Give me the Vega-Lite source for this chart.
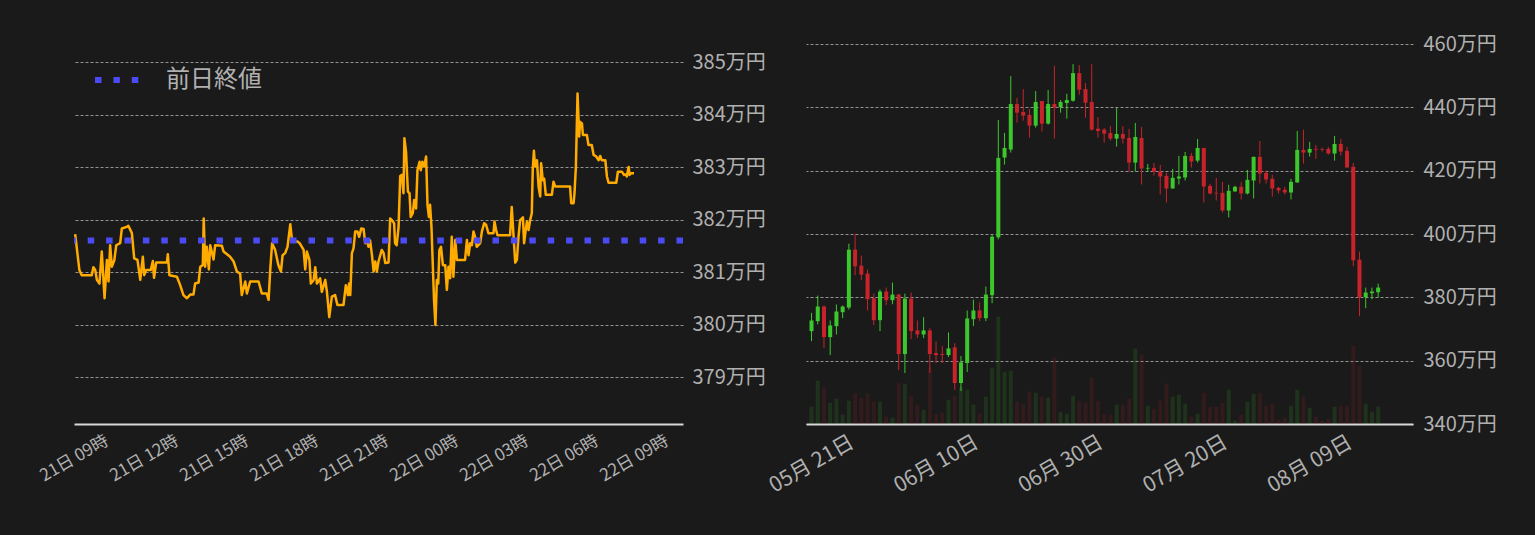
{
  "$schema": "https://vega.github.io/schema/vega-lite/v6.json",
  "description": "Intraday price with previous close, and daily candlesticks with volume",
  "background": "#1a1a1a",
  "padding": {"left": 36, "top": 25, "right": 50, "bottom": 45},
  "bounds": "flush",
  "spacing": 123,
  "config": {
    "view": {"stroke": null},
    "font": "Noto Sans CJK JP",
    "axis": {
      "title": null,
      "ticks": false,
      "tickSize": 0,
      "labelOverlap": false,
      "labelFont": "Noto Sans CJK JP",
      "labelColor": "#b0b0b0",
      "domainColor": "#d8d8d8",
      "domainWidth": 2,
      "gridColor": "#c8c8c8",
      "gridWidth": 0.7,
      "gridDash": [3, 2]
    }
  },
  "hconcat": [
    {
      "width": 609,
      "height": 399,
      "layer": [
        {
          "data": {
            "values": [
              {"hour": 9.05, "price": 381.72}, {"hour": 9.23, "price": 381.04}, {"hour": 9.33, "price": 380.94},
              {"hour": 9.76, "price": 380.94}, {"hour": 9.83, "price": 381.09}, {"hour": 9.91, "price": 381.04},
              {"hour": 9.98, "price": 380.85}, {"hour": 10.09, "price": 380.78}, {"hour": 10.19, "price": 381.39},
              {"hour": 10.31, "price": 380.5}, {"hour": 10.41, "price": 381.23}, {"hour": 10.48, "price": 380.82},
              {"hour": 10.55, "price": 381.51}, {"hour": 10.62, "price": 381.1}, {"hour": 10.73, "price": 381.23},
              {"hour": 10.81, "price": 381.51}, {"hour": 10.98, "price": 381.55}, {"hour": 11.05, "price": 381.83},
              {"hour": 11.26, "price": 381.86}, {"hour": 11.33, "price": 381.88}, {"hour": 11.48, "price": 381.74},
              {"hour": 11.58, "price": 381.26}, {"hour": 11.72, "price": 381.23}, {"hour": 11.84, "price": 380.85},
              {"hour": 11.95, "price": 381.29}, {"hour": 12.01, "price": 380.94}, {"hour": 12.09, "price": 381.04},
              {"hour": 12.29, "price": 381.04}, {"hour": 12.38, "price": 381.21}, {"hour": 12.43, "price": 380.89},
              {"hour": 12.52, "price": 381.18}, {"hour": 12.98, "price": 381.18}, {"hour": 13.02, "price": 381.34},
              {"hour": 13.09, "price": 380.94}, {"hour": 13.41, "price": 380.91}, {"hour": 13.55, "price": 380.75},
              {"hour": 13.69, "price": 380.56}, {"hour": 13.84, "price": 380.5}, {"hour": 13.98, "price": 380.57},
              {"hour": 14.12, "price": 380.57}, {"hour": 14.19, "price": 380.78}, {"hour": 14.34, "price": 380.8},
              {"hour": 14.41, "price": 381.1}, {"hour": 14.52, "price": 381.13}, {"hour": 14.56, "price": 382.02},
              {"hour": 14.62, "price": 381.1}, {"hour": 14.69, "price": 381.48}, {"hour": 14.78, "price": 381.05},
              {"hour": 14.84, "price": 381.51}, {"hour": 14.98, "price": 381.24}, {"hour": 15.05, "price": 381.51},
              {"hour": 15.34, "price": 381.5}, {"hour": 15.41, "price": 381.39}, {"hour": 15.69, "price": 381.29},
              {"hour": 15.84, "price": 381.2}, {"hour": 15.98, "price": 381.01}, {"hour": 16.12, "price": 380.97},
              {"hour": 16.19, "price": 380.56}, {"hour": 16.34, "price": 380.82}, {"hour": 16.41, "price": 380.59},
              {"hour": 16.55, "price": 380.82}, {"hour": 16.91, "price": 380.82}, {"hour": 17.05, "price": 380.59},
              {"hour": 17.26, "price": 380.59}, {"hour": 17.34, "price": 380.47}, {"hour": 17.41, "price": 381.04},
              {"hour": 17.49, "price": 381.55}, {"hour": 17.62, "price": 381.42}, {"hour": 17.76, "price": 381.13},
              {"hour": 17.87, "price": 381.01}, {"hour": 17.94, "price": 381.32}, {"hour": 18.05, "price": 381.36},
              {"hour": 18.15, "price": 381.48}, {"hour": 18.27, "price": 381.91}, {"hour": 18.34, "price": 381.61},
              {"hour": 18.41, "price": 381.58}, {"hour": 18.58, "price": 381.58}, {"hour": 18.67, "price": 381.55},
              {"hour": 18.84, "price": 381.42}, {"hour": 18.91, "price": 381.05}, {"hour": 18.98, "price": 381.39},
              {"hour": 19.09, "price": 381.23}, {"hour": 19.15, "price": 380.78}, {"hour": 19.27, "price": 380.85},
              {"hour": 19.34, "price": 381.09}, {"hour": 19.41, "price": 380.78}, {"hour": 19.55, "price": 380.88},
              {"hour": 19.62, "price": 380.62}, {"hour": 19.77, "price": 380.85}, {"hour": 19.84, "price": 380.62},
              {"hour": 19.94, "price": 380.14}, {"hour": 20.05, "price": 380.53}, {"hour": 20.19, "price": 380.56},
              {"hour": 20.29, "price": 380.37}, {"hour": 20.55, "price": 380.37}, {"hour": 20.65, "price": 380.75},
              {"hour": 20.74, "price": 380.56}, {"hour": 20.79, "price": 380.78}, {"hour": 20.84, "price": 380.56},
              {"hour": 20.91, "price": 381.36}, {"hour": 20.98, "price": 381.45}, {"hour": 21.05, "price": 381.77},
              {"hour": 21.15, "price": 381.77}, {"hour": 21.22, "price": 381.67}, {"hour": 21.31, "price": 381.83},
              {"hour": 21.41, "price": 381.82}, {"hour": 21.48, "price": 381.55}, {"hour": 21.55, "price": 381.62},
              {"hour": 21.62, "price": 381.48}, {"hour": 21.69, "price": 381.6}, {"hour": 21.77, "price": 381.32},
              {"hour": 21.84, "price": 381.01}, {"hour": 21.91, "price": 381.2}, {"hour": 21.98, "price": 381.01},
              {"hour": 22.05, "price": 381.2}, {"hour": 22.19, "price": 381.42}, {"hour": 22.27, "price": 381.36},
              {"hour": 22.34, "price": 381.17}, {"hour": 22.48, "price": 381.18}, {"hour": 22.55, "price": 382.02},
              {"hour": 22.62, "price": 381.99}, {"hour": 22.72, "price": 381.93}, {"hour": 22.76, "price": 381.55},
              {"hour": 22.83, "price": 381.51}, {"hour": 22.91, "price": 381.86}, {"hour": 22.98, "price": 382.83},
              {"hour": 23.05, "price": 382.85}, {"hour": 23.12, "price": 382.5}, {"hour": 23.16, "price": 383.55},
              {"hour": 23.23, "price": 383.29}, {"hour": 23.31, "price": 382.53}, {"hour": 23.38, "price": 382.5},
              {"hour": 23.43, "price": 382.05}, {"hour": 23.52, "price": 382.12}, {"hour": 23.58, "price": 382.37},
              {"hour": 23.66, "price": 382.21}, {"hour": 23.72, "price": 382.94}, {"hour": 23.81, "price": 383.1},
              {"hour": 23.86, "price": 382.94}, {"hour": 23.93, "price": 383.1}, {"hour": 24.01, "price": 383.01},
              {"hour": 24.09, "price": 383.2}, {"hour": 24.15, "price": 382.28}, {"hour": 24.21, "price": 382.05},
              {"hour": 24.26, "price": 382.28}, {"hour": 24.32, "price": 381.86}, {"hour": 24.38, "price": 381.1},
              {"hour": 24.43, "price": 380.47}, {"hour": 24.49, "price": 379.99}, {"hour": 24.55, "price": 380.85},
              {"hour": 24.61, "price": 380.78}, {"hour": 24.66, "price": 381.42}, {"hour": 24.73, "price": 381.48},
              {"hour": 24.81, "price": 381.13}, {"hour": 24.91, "price": 381.13}, {"hour": 24.98, "price": 380.66},
              {"hour": 25.05, "price": 381.1}, {"hour": 25.12, "price": 380.88}, {"hour": 25.19, "price": 381.67},
              {"hour": 25.26, "price": 380.91}, {"hour": 25.34, "price": 381.61}, {"hour": 25.41, "price": 381.23},
              {"hour": 25.76, "price": 381.23}, {"hour": 25.84, "price": 381.61}, {"hour": 25.91, "price": 381.32},
              {"hour": 25.98, "price": 381.55}, {"hour": 26.05, "price": 381.51}, {"hour": 26.12, "price": 381.77},
              {"hour": 26.19, "price": 381.67}, {"hour": 26.26, "price": 381.48}, {"hour": 26.41, "price": 381.55},
              {"hour": 26.48, "price": 381.77}, {"hour": 26.58, "price": 381.93}, {"hour": 26.66, "price": 381.9},
              {"hour": 26.76, "price": 381.74}, {"hour": 26.98, "price": 381.74}, {"hour": 27.02, "price": 381.96},
              {"hour": 27.09, "price": 381.8}, {"hour": 27.15, "price": 381.7}, {"hour": 27.69, "price": 381.7},
              {"hour": 27.76, "price": 382.24}, {"hour": 27.84, "price": 381.67}, {"hour": 27.91, "price": 381.18},
              {"hour": 27.98, "price": 381.23}, {"hour": 28.05, "price": 381.67}, {"hour": 28.12, "price": 381.99},
              {"hour": 28.24, "price": 382.04}, {"hour": 28.29, "price": 381.55}, {"hour": 28.35, "price": 381.77},
              {"hour": 28.41, "price": 381.96}, {"hour": 28.48, "price": 381.8}, {"hour": 28.55, "price": 381.99},
              {"hour": 28.62, "price": 382.12}, {"hour": 28.66, "price": 382.94}, {"hour": 28.71, "price": 383.31},
              {"hour": 28.76, "price": 383.01}, {"hour": 28.84, "price": 383.13}, {"hour": 28.91, "price": 382.63},
              {"hour": 28.98, "price": 382.44}, {"hour": 29.02, "price": 383.07}, {"hour": 29.09, "price": 382.75},
              {"hour": 29.15, "price": 382.78}, {"hour": 29.22, "price": 382.47}, {"hour": 29.48, "price": 382.47},
              {"hour": 29.55, "price": 382.72}, {"hour": 29.62, "price": 382.63}, {"hour": 30.26, "price": 382.63},
              {"hour": 30.31, "price": 382.31}, {"hour": 30.41, "price": 382.31}, {"hour": 30.45, "price": 382.5},
              {"hour": 30.51, "price": 383.01}, {"hour": 30.58, "price": 384.4}, {"hour": 30.65, "price": 383.58},
              {"hour": 30.69, "price": 383.86}, {"hour": 30.77, "price": 383.83}, {"hour": 30.81, "price": 383.61},
              {"hour": 30.98, "price": 383.61}, {"hour": 31.05, "price": 383.42}, {"hour": 31.19, "price": 383.42},
              {"hour": 31.27, "price": 383.23}, {"hour": 31.38, "price": 383.2}, {"hour": 31.48, "price": 383.13},
              {"hour": 31.55, "price": 383.21}, {"hour": 31.62, "price": 383.13}, {"hour": 31.77, "price": 383.13},
              {"hour": 31.84, "price": 382.82}, {"hour": 31.91, "price": 382.7}, {"hour": 32.24, "price": 382.7},
              {"hour": 32.31, "price": 382.91}, {"hour": 32.48, "price": 382.91}, {"hour": 32.58, "price": 382.85},
              {"hour": 32.67, "price": 382.86}, {"hour": 32.69, "price": 382.82}, {"hour": 32.77, "price": 383.0},
              {"hour": 32.81, "price": 382.85}, {"hour": 32.87, "price": 382.88}, {"hour": 33.0, "price": 382.88}
            ]
          },
          "mark": {"type": "line", "color": "#ffab00", "strokeWidth": 2.5, "strokeJoin": "round", "clip": true},
          "encoding": {
            "x": {
              "field": "hour",
              "type": "quantitative",
              "scale": {"domain": [9, 35.1], "nice": false, "zero": false},
              "axis": {
                "values": [9, 12, 15, 18, 21, 24, 27, 30, 33],
                "labelExpr": "(datum.value < 24 ? '21日 ' : '22日 ') + (datum.value % 24 < 10 ? '0' : '') + (datum.value % 24) + '時'",
                "labelAngle": -30,
                "labelAlign": "center",
                "labelBaseline": "middle",
                "labelPadding": 34,
                "labelFontSize": 17,
                "grid": false
              }
            },
            "y": {
              "field": "price",
              "type": "quantitative",
              "scale": {"domain": [378.105, 385.705], "nice": false, "zero": false},
              "axis": {
                "orient": "right",
                "values": [379, 380, 381, 382, 383, 384, 385],
                "labelExpr": "datum.value + '万円'",
                "labelFontSize": 20,
                "labelPadding": 9,
                "domain": false,
                "grid": true
              }
            }
          }
        },
        {
          "data": {"values": [{"series": "前日終値", "price": 381.6}]},
          "mark": {"type": "rule", "strokeWidth": 6, "strokeDash": [6.5, 11.9], "strokeCap": "butt"},
          "encoding": {
            "y": {"field": "price", "type": "quantitative"},
            "color": {
              "field": "series",
              "type": "nominal",
              "scale": {"range": ["#4b4bf5"]},
              "legend": {
                "title": null,
                "orient": "none",
                "legendX": 18,
                "legendY": 30,
                "padding": 0,
                "symbolType": "stroke",
                "symbolStrokeWidth": 6,
                "symbolDash": [6.5, 11.9],
                "symbolSize": 1936,
                "labelOffset": 24,
                "labelFont": "Noto Sans CJK JP",
                "labelFontSize": 24,
                "labelColor": "#b0b0b0"
              }
            }
          }
        }
      ]
    },
    {
      "width": 607,
      "height": 399,
      "data": {
        "values": [
          {"date": "2024-05-21", "open": 369.33, "high": 375.1, "low": 366.18, "close": 372.69, "volume": 52},
          {"date": "2024-05-22", "open": 372.48, "high": 380.56, "low": 371.43, "close": 377.1, "volume": 130},
          {"date": "2024-05-23", "open": 377.1, "high": 377.41, "low": 363.97, "close": 367.44, "volume": 109},
          {"date": "2024-05-24", "open": 367.44, "high": 372.69, "low": 361.77, "close": 371.11, "volume": 64},
          {"date": "2024-05-25", "open": 370.9, "high": 377.73, "low": 368.28, "close": 375.52, "volume": 76},
          {"date": "2024-05-26", "open": 375.31, "high": 377.41, "low": 373.42, "close": 377.1, "volume": 28},
          {"date": "2024-05-27", "open": 376.78, "high": 396.94, "low": 376.15, "close": 395.05, "volume": 70},
          {"date": "2024-05-28", "open": 395.05, "high": 400.09, "low": 386.97, "close": 389.8, "volume": 92},
          {"date": "2024-05-29", "open": 390.01, "high": 393.16, "low": 385.39, "close": 387.18, "volume": 79},
          {"date": "2024-05-30", "open": 387.49, "high": 388.75, "low": 375.84, "close": 379.4, "volume": 92},
          {"date": "2024-05-31", "open": 379.72, "high": 381.19, "low": 371.22, "close": 372.79, "volume": 67},
          {"date": "2024-06-01", "open": 372.79, "high": 382.45, "low": 369.33, "close": 381.82, "volume": 67},
          {"date": "2024-06-02", "open": 381.82, "high": 383.08, "low": 377.52, "close": 379.09, "volume": 22},
          {"date": "2024-06-03", "open": 379.09, "high": 384.66, "low": 377.83, "close": 380.88, "volume": 19},
          {"date": "2024-06-04", "open": 380.88, "high": 381.1, "low": 357.04, "close": 362.08, "volume": 124},
          {"date": "2024-06-05", "open": 362.08, "high": 381.19, "low": 356.1, "close": 379.62, "volume": 121},
          {"date": "2024-06-06", "open": 379.62, "high": 381.51, "low": 366.81, "close": 369.33, "volume": 85},
          {"date": "2024-06-07", "open": 369.54, "high": 372.69, "low": 367.12, "close": 368.28, "volume": 58},
          {"date": "2024-06-08", "open": 368.28, "high": 373.74, "low": 367.12, "close": 369.54, "volume": 43},
          {"date": "2024-06-09", "open": 369.54, "high": 370.27, "low": 356.1, "close": 362.08, "volume": 170},
          {"date": "2024-06-10", "open": 362.4, "high": 366.07, "low": 359.25, "close": 361.77, "volume": 31},
          {"date": "2024-06-11", "open": 362.08, "high": 364.6, "low": 359.25, "close": 361.77, "volume": 34},
          {"date": "2024-06-12", "open": 361.77, "high": 368.91, "low": 361.14, "close": 363.87, "volume": 73},
          {"date": "2024-06-13", "open": 364.18, "high": 365.55, "low": 350.74, "close": 352.95, "volume": 85},
          {"date": "2024-06-14", "open": 352.95, "high": 361.45, "low": 350.43, "close": 359.46, "volume": 110},
          {"date": "2024-06-15", "open": 359.25, "high": 375.84, "low": 356.41, "close": 373.32, "volume": 103},
          {"date": "2024-06-16", "open": 373.1, "high": 379.3, "low": 370.9, "close": 375.84, "volume": 58},
          {"date": "2024-06-17", "open": 375.84, "high": 378.36, "low": 372.48, "close": 373.42, "volume": 31},
          {"date": "2024-06-18", "open": 373.42, "high": 383.4, "low": 372.48, "close": 380.88, "volume": 82},
          {"date": "2024-06-19", "open": 380.67, "high": 399.88, "low": 378.15, "close": 399.15, "volume": 169},
          {"date": "2024-06-20", "open": 398.94, "high": 436.0, "low": 398.31, "close": 424.03, "volume": 322},
          {"date": "2024-06-21", "open": 424.14, "high": 431.91, "low": 421.93, "close": 427.18, "volume": 157},
          {"date": "2024-06-22", "open": 426.66, "high": 449.86, "low": 425.71, "close": 441.04, "volume": 160},
          {"date": "2024-06-23", "open": 441.04, "high": 443.03, "low": 435.16, "close": 438.31, "volume": 67},
          {"date": "2024-06-24", "open": 438.52, "high": 445.77, "low": 435.79, "close": 437.37, "volume": 61},
          {"date": "2024-06-25", "open": 437.58, "high": 439.47, "low": 430.43, "close": 434.22, "volume": 97},
          {"date": "2024-06-26", "open": 434.22, "high": 445.14, "low": 433.59, "close": 441.67, "volume": 94},
          {"date": "2024-06-27", "open": 441.99, "high": 441.99, "low": 432.33, "close": 434.85, "volume": 82},
          {"date": "2024-06-28", "open": 434.85, "high": 445.45, "low": 434.53, "close": 441.04, "volume": 79},
          {"date": "2024-06-29", "open": 441.04, "high": 453.12, "low": 430.12, "close": 439.99, "volume": 200},
          {"date": "2024-06-30", "open": 439.99, "high": 442.3, "low": 438.31, "close": 441.67, "volume": 37},
          {"date": "2024-07-01", "open": 441.36, "high": 444.3, "low": 436.42, "close": 442.3, "volume": 31},
          {"date": "2024-07-02", "open": 442.09, "high": 453.64, "low": 441.78, "close": 450.81, "volume": 85},
          {"date": "2024-07-03", "open": 450.81, "high": 453.33, "low": 443.98, "close": 445.56, "volume": 70},
          {"date": "2024-07-04", "open": 445.77, "high": 447.66, "low": 436.74, "close": 441.46, "volume": 64},
          {"date": "2024-07-05", "open": 441.67, "high": 453.64, "low": 432.64, "close": 432.96, "volume": 139},
          {"date": "2024-07-06", "open": 433.27, "high": 436.95, "low": 430.43, "close": 432.53, "volume": 70},
          {"date": "2024-07-07", "open": 432.96, "high": 433.48, "low": 428.86, "close": 431.7, "volume": 31},
          {"date": "2024-07-08", "open": 431.91, "high": 434.11, "low": 429.49, "close": 430.12, "volume": 28},
          {"date": "2024-07-09", "open": 430.12, "high": 439.89, "low": 427.6, "close": 431.59, "volume": 58},
          {"date": "2024-07-10", "open": 431.59, "high": 434.11, "low": 428.55, "close": 430.12, "volume": 58},
          {"date": "2024-07-11", "open": 430.33, "high": 433.17, "low": 419.73, "close": 422.56, "volume": 76},
          {"date": "2024-07-12", "open": 422.56, "high": 435.06, "low": 419.73, "close": 430.65, "volume": 226},
          {"date": "2024-07-13", "open": 430.33, "high": 433.8, "low": 415.63, "close": 420.67, "volume": 208},
          {"date": "2024-07-14", "open": 420.67, "high": 422.14, "low": 419.73, "close": 420.88, "volume": 55},
          {"date": "2024-07-15", "open": 420.88, "high": 422.46, "low": 418.47, "close": 419.73, "volume": 46},
          {"date": "2024-07-16", "open": 419.73, "high": 421.83, "low": 412.48, "close": 418.15, "volume": 70},
          {"date": "2024-07-17", "open": 418.36, "high": 419.41, "low": 409.96, "close": 414.37, "volume": 121},
          {"date": "2024-07-18", "open": 414.37, "high": 420.57, "low": 414.37, "close": 417.73, "volume": 82},
          {"date": "2024-07-19", "open": 417.52, "high": 424.66, "low": 415.63, "close": 418.15, "volume": 88},
          {"date": "2024-07-20", "open": 417.84, "high": 425.92, "low": 416.89, "close": 424.66, "volume": 61},
          {"date": "2024-07-21", "open": 424.66, "high": 425.61, "low": 420.99, "close": 422.88, "volume": 22},
          {"date": "2024-07-22", "open": 423.19, "high": 430.02, "low": 422.56, "close": 427.18, "volume": 31},
          {"date": "2024-07-23", "open": 427.18, "high": 427.18, "low": 409.96, "close": 415.0, "volume": 94},
          {"date": "2024-07-24", "open": 415.21, "high": 415.84, "low": 412.48, "close": 412.8, "volume": 52},
          {"date": "2024-07-25", "open": 413.01, "high": 417.73, "low": 410.59, "close": 412.8, "volume": 52},
          {"date": "2024-07-26", "open": 413.01, "high": 416.47, "low": 406.81, "close": 407.44, "volume": 64},
          {"date": "2024-07-27", "open": 407.44, "high": 415.53, "low": 405.24, "close": 413.64, "volume": 103},
          {"date": "2024-07-28", "open": 413.43, "high": 415.21, "low": 413.43, "close": 414.9, "volume": 10},
          {"date": "2024-07-29", "open": 414.9, "high": 416.47, "low": 410.91, "close": 412.8, "volume": 28},
          {"date": "2024-07-30", "open": 412.8, "high": 420.25, "low": 412.48, "close": 417.1, "volume": 67},
          {"date": "2024-07-31", "open": 416.89, "high": 424.45, "low": 411.22, "close": 424.35, "volume": 91},
          {"date": "2024-08-01", "open": 424.35, "high": 429.39, "low": 415.95, "close": 419.1, "volume": 94},
          {"date": "2024-08-02", "open": 419.31, "high": 420.04, "low": 415.95, "close": 417.21, "volume": 55},
          {"date": "2024-08-03", "open": 417.42, "high": 418.68, "low": 411.85, "close": 414.37, "volume": 61},
          {"date": "2024-08-04", "open": 414.58, "high": 414.9, "low": 412.8, "close": 413.74, "volume": 13},
          {"date": "2024-08-05", "open": 413.95, "high": 414.9, "low": 412.48, "close": 413.11, "volume": 19},
          {"date": "2024-08-06", "open": 413.11, "high": 417.42, "low": 410.91, "close": 416.47, "volume": 55},
          {"date": "2024-08-07", "open": 416.26, "high": 432.54, "low": 416.26, "close": 426.55, "volume": 103},
          {"date": "2024-08-08", "open": 426.55, "high": 432.96, "low": 422.25, "close": 425.71, "volume": 82},
          {"date": "2024-08-09", "open": 425.71, "high": 429.07, "low": 424.45, "close": 426.87, "volume": 49},
          {"date": "2024-08-10", "open": 426.87, "high": 428.13, "low": 423.72, "close": 426.66, "volume": 22},
          {"date": "2024-08-11", "open": 426.87, "high": 427.29, "low": 426.03, "close": 426.66, "volume": 10},
          {"date": "2024-08-12", "open": 426.87, "high": 427.5, "low": 425.08, "close": 425.4, "volume": 16},
          {"date": "2024-08-13", "open": 425.4, "high": 430.96, "low": 423.19, "close": 428.44, "volume": 52},
          {"date": "2024-08-14", "open": 428.44, "high": 430.02, "low": 424.77, "close": 426.03, "volume": 55},
          {"date": "2024-08-15", "open": 426.24, "high": 427.5, "low": 420.99, "close": 420.99, "volume": 55},
          {"date": "2024-08-16", "open": 421.2, "high": 422.46, "low": 389.8, "close": 391.69, "volume": 235},
          {"date": "2024-08-17", "open": 391.9, "high": 394.42, "low": 374.05, "close": 380.04, "volume": 175},
          {"date": "2024-08-18", "open": 380.04, "high": 383.08, "low": 376.57, "close": 381.51, "volume": 61},
          {"date": "2024-08-19", "open": 381.3, "high": 383.08, "low": 379.4, "close": 381.82, "volume": 37},
          {"date": "2024-08-20", "open": 381.61, "high": 384.34, "low": 380.04, "close": 383.08, "volume": 52}
        ]
      },
      "encoding": {
        "x": {
          "field": "date",
          "type": "temporal",
          "scale": {
            "type": "utc",
            "domain": [
              {"year": 2024, "month": 5, "date": 20, "hours": 22, "utc": true},
              {"year": 2024, "month": 8, "date": 24, "hours": 19, "utc": true}
            ]
          },
          "axis": {
            "values": [
              {"year": 2024, "month": 5, "date": 21, "utc": true},
              {"year": 2024, "month": 6, "date": 10, "utc": true},
              {"year": 2024, "month": 6, "date": 30, "utc": true},
              {"year": 2024, "month": 7, "date": 20, "utc": true},
              {"year": 2024, "month": 8, "date": 9, "utc": true}
            ],
            "labelExpr": "utcFormat(datum.value, '%m月 %d日')",
            "labelAngle": -30,
            "labelAlign": "center",
            "labelBaseline": "middle",
            "labelPadding": 40,
            "labelFontSize": 21,
            "grid": false
          }
        },
        "color": {
          "condition": {"test": "datum.close >= datum.open", "value": "#3cc82d"},
          "value": "#c8232b"
        }
      },
      "layer": [
        {
          "mark": {"type": "bar", "width": 4, "opacity": 0.14, "clip": true},
          "encoding": {
            "y": {"field": "volume", "type": "quantitative", "scale": {"domain": [0, 1197], "nice": false}, "axis": null}
          }
        },
        {
          "mark": {"type": "rule", "strokeWidth": 1, "clip": true},
          "encoding": {
            "y": {
              "field": "low",
              "type": "quantitative",
              "scale": {"domain": [340, 466], "nice": false, "zero": false},
              "axis": {
                "orient": "right",
                "values": [340, 360, 380, 400, 420, 440, 460],
                "labelExpr": "datum.value + '万円'",
                "labelFontSize": 20,
                "labelPadding": 10,
                "domain": false,
                "grid": true
              }
            },
            "y2": {"field": "high"}
          }
        },
        {
          "mark": {"type": "bar", "width": 4, "clip": true},
          "encoding": {
            "y": {"field": "open", "type": "quantitative", "scale": {"domain": [340, 466], "nice": false, "zero": false}, "axis": null},
            "y2": {"field": "close"}
          }
        }
      ],
      "resolve": {"scale": {"y": "independent"}}
    }
  ]
}
